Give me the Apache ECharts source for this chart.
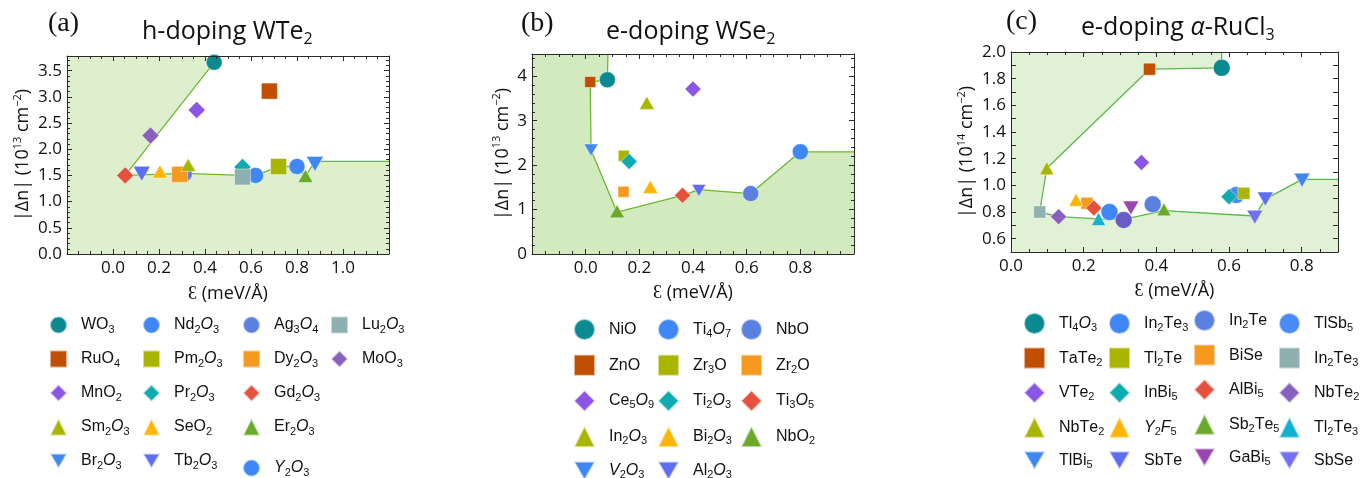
<!DOCTYPE html>
<html>
<head>
<meta charset="utf-8">
<script src="https://cdn.jsdelivr.net/npm/echarts@6/dist/echarts.min.js"></script>
<style>
  html, body { margin: 0; padding: 0; background: #fff; }
  #chart { width: 1370px; height: 478px; }
</style>
</head>
<body>
<div id="chart"></div>
<script>
// ---------- panel (a): h-doping WTe2 ----------
// names use "*X*" for italic letters; digits become subscripts
const aNames = ['WO3', 'Nd2*O*3', 'Ag3*O*4', '*Y*2*O*3',
  'MnO2', 'MoO3', 'Pr2*O*3', 'Gd2*O*3',
  'RuO4', 'Pm2*O*3', 'Dy2*O*3', 'Lu2*O*3',
  'Sm2*O*3', 'SeO2', 'Er2*O*3',
  'Br2*O*3', 'Tb2*O*3'];
const aEps = [0.44, 0.62, 0.31, 0.80, 0.364, 0.163, 0.563, 0.053, 0.68, 0.72, 0.29, 0.563, 0.327, 0.204, 0.837, 0.878, 0.125];
const aDn = [3.66, 1.50, 1.53, 1.67, 2.75, 2.26, 1.66, 1.50, 3.11, 1.67, 1.52, 1.47, 1.70, 1.575, 1.49, 1.72, 1.53];
const aFrontEps = [0.445, 0.44, 0.053, 0.31, 0.563, 0.62, 0.72, 0.80, 0.837, 0.878, 1.2];
const aFrontDn = [3.78, 3.66, 1.50, 1.54, 1.50, 1.50, 1.67, 1.67, 1.49, 1.77, 1.77];
const aLegendCols = [[0, 8, 4, 12, 15], [1, 9, 6, 13, 16], [2, 10, 7, 14], [3], [11, 5]];

// ---------- panel (b): e-doping WSe2 ----------
const bNames = ['NiO', 'Ti4*O*7', 'NbO',
  'ZnO', 'Zr3O', 'Zr2O',
  'Ce5*O*9', 'Ti2*O*3', 'Ti3*O*5',
  'In2*O*3', 'Bi2*O*3', 'NbO2',
  '*V*2*O*3', 'Al2*O*3'];
const bEps = [0.081, 0.80, 0.615, 0.017, 0.142, 0.141, 0.40, 0.162, 0.361, 0.228, 0.241, 0.117, 0.02, 0.422];
const bDn = [3.92, 2.30, 1.36, 3.87, 2.21, 1.40, 3.71, 2.08, 1.32, 3.40, 1.51, 0.96, 2.34, 1.43];
const bFrontEps = [0.083, 0.081, 0.017, 0.02, 0.117, 0.361, 0.422, 0.615, 0.80, 1.0];
const bFrontDn = [4.5, 3.92, 3.87, 2.34, 0.94, 1.32, 1.45, 1.36, 2.30, 2.30];
const bLegendCols = [[0, 3, 6, 9, 12], [1, 4, 7, 10, 13], [2, 5, 8, 11]];

// ---------- panel (c): e-doping alpha-RuCl3 ----------
const cNames = ['Tl4*O*3', 'In2Te3', 'In2Te', 'TlSb5', '',
  'TaTe2', 'Tl2Te', 'BiSe', 'In2Te3',
  'VTe2', 'InBi5', 'AlBi5', 'NbTe2',
  'NbTe2', '*Y*2*F*5', 'Sb2Te5', 'Tl2Te3',
  'TlBi5', 'SbTe', 'GaBi5', 'SbSe'];
const cEps = [0.58, 0.271, 0.39, 0.62, 0.31, 0.381, 0.641, 0.209, 0.079, 0.359, 0.60, 0.228, 0.131, 0.0985, 0.179, 0.421, 0.241, 0.801, 0.70, 0.33, 0.671];
const cDn = [1.881, 0.80, 0.858, 0.927, 0.74, 1.871, 0.94, 0.865, 0.80, 1.172, 0.915, 0.83, 0.765, 1.128, 0.892, 0.82, 0.748, 1.039, 0.897, 0.83, 0.761];
const cFrontEps = [0.58, 0.58, 0.381, 0.0985, 0.079, 0.131, 0.241, 0.31, 0.421, 0.671, 0.70, 0.801, 0.9];
const cFrontDn = [2.0, 1.881, 1.871, 1.128, 0.80, 0.765, 0.748, 0.745, 0.81, 0.77, 0.897, 1.045, 1.045];
const cLegendCols = [[0, 5, 9, 13, 17], [1, 6, 10, 14, 18], [2, 7, 11, 15, 19], [3, 8, 12, 16, 20]];

// ---------- styles ----------
const TEAL = '#0b8a92', BLUE = '#3e87f4', MBLUE = '#5b80e0', PURP = '#8b55e6', MPURP = '#8a60bf';
const DTEAL = '#0fabb0', RED = '#e6513e', RUST = '#c04f02', OLIVE = '#aab502', ORANGE = '#f5991f';
const GRAY = '#8fb0b0', YELLOW = '#fdb502', GREEN = '#69aa2a', VIOLET = '#5e6ef3';
const DOWN = 'path://M0,0L10,0L5,8.66Z';

const aShapes = ['circle', 'circle', 'circle', 'circle', 'diamond', 'diamond', 'diamond', 'diamond',
  'rect', 'rect', 'rect', 'rect', 'triangle', 'triangle', 'triangle', DOWN, DOWN];
const aColors = [TEAL, BLUE, MBLUE, BLUE, PURP, MPURP, DTEAL, RED, RUST, OLIVE, ORANGE, GRAY, OLIVE, YELLOW, GREEN, BLUE, VIOLET];
const bShapes = ['circle', 'circle', 'circle', 'rect', 'rect', 'rect', 'diamond', 'diamond', 'diamond',
  'triangle', 'triangle', 'triangle', DOWN, DOWN];
const bColors = [TEAL, BLUE, MBLUE, RUST, OLIVE, ORANGE, PURP, DTEAL, RED, OLIVE, YELLOW, GREEN, BLUE, VIOLET];
const cShapes = ['circle', 'circle', 'circle', 'circle', 'circle', 'rect', 'rect', 'rect', 'rect',
  'diamond', 'diamond', 'diamond', 'diamond', 'triangle', 'triangle', 'triangle', 'triangle', DOWN, DOWN, DOWN, DOWN];
const cColors = [TEAL, BLUE, MBLUE, '#4a8af5', '#6a5cc8', RUST, OLIVE, ORANGE, GRAY, PURP, DTEAL, RED, MPURP,
  OLIVE, YELLOW, GREEN, '#12b1d0', BLUE, VIOLET, '#9a45b0', '#7272f0'];

const SIZE = {
  a: { circle: 16, rect: 16, diamond: 17, triangle: [15, 13], down: [17, 15] },
  b: { circle: 16, rect: 11, diamond: 16, triangle: [15, 13], down: [14, 12] },
  c: { circle: 17, rect: 12, diamond: 16, triangle: [14, 13], down: [16, 14] }
};

// "Nd2*O*3" -> rich text with subscripts and italics
function richName(s) {
  let out = '', italic = false;
  for (const ch of s) {
    if (ch === '*') { italic = !italic; continue; }
    if (/[0-9]/.test(ch)) out += '{s|' + ch + '}';
    else out += italic ? '{i|' + ch + '}' : '{n|' + ch + '}';
  }
  return out;
}

const labelMap = {};
const series = [];
const legends = [];
const textRich = {
  n: { fontSize: 16, fontFamily: 'Liberation Sans', color: '#111', lineHeight: 20 },
  i: { fontSize: 16, fontFamily: 'Liberation Sans', fontStyle: 'italic', color: '#111', lineHeight: 20 },
  s: { fontSize: 11, fontFamily: 'Liberation Sans', color: '#111', lineHeight: 12, verticalAlign: 'bottom' }
};

function addPanel(p, idx, names, eps, dn, shapes, colors, frontEps, frontDn, lim, fill, lineColor) {
  const front = frontEps.map((x, i) => [x, frontDn[i]]);
  const poly = front.concat([[lim.xmax, lim.ymin], [lim.xmin, lim.ymin], [lim.xmin, lim.ymax]]);
  series.push({
    type: 'custom', xAxisIndex: idx * 2, yAxisIndex: idx * 2, silent: true, z: 0,
    data: [[lim.xmin, lim.ymin]],
    renderItem: (params, api) => ({
      type: 'polygon',
      shape: { points: poly.map(pt => api.coord(pt)) },
      style: { fill: fill }
    })
  });
  series.push({
    type: 'line', xAxisIndex: idx * 2, yAxisIndex: idx * 2, silent: true, z: 1,
    data: front, symbol: 'none', lineStyle: { color: lineColor, width: 1.3 }
  });
  names.forEach((nm, i) => {
    const key = p + i;
    labelMap[key] = richName(nm);
    const shp = shapes[i];
    const kind = shp === DOWN ? 'down' : shp;
    series.push({
      type: 'scatter', name: key, xAxisIndex: idx * 2, yAxisIndex: idx * 2, z: 3,
      data: [[eps[i], dn[i]]],
      symbol: shp, symbolSize: SIZE[p][kind],
      itemStyle: { color: colors[i], opacity: 1, borderColor: 'rgba(255,255,255,0.55)', borderWidth: 0.8 }
    });
  });
}

function addLegend(p, cols, lefts, tops, icon, gap) {
  cols.forEach((col, k) => {
    legends.push({
      orient: 'vertical', left: lefts[k], top: tops[k], height: 200, padding: 0,
      itemGap: gap, itemWidth: icon, itemHeight: icon, selectedMode: false,
      data: col.map(i => p + i),
      formatter: name => labelMap[name],
      textStyle: { fontSize: 16, fontFamily: 'Liberation Sans', color: '#111', lineHeight: 20,
        padding: [0, 0, 0, 9], rich: textRich }
    });
  });
}

const aLim = { xmin: -0.2, xmax: 1.2, ymin: 0, ymax: 3.78 };
const bLim = { xmin: -0.2, xmax: 1.0, ymin: 0, ymax: 4.5 };
const cLim = { xmin: 0, xmax: 0.9, ymin: 0.5, ymax: 2.0 };

addPanel('a', 0, aNames, aEps, aDn, aShapes, aColors, aFrontEps, aFrontDn, aLim, '#deefcd', '#6ab832');
addPanel('b', 1, bNames, bEps, bDn, bShapes, bColors, bFrontEps, bFrontDn, bLim, '#d3eabe', '#6ab832');
addPanel('c', 2, cNames, cEps, cDn, cShapes, cColors, cFrontEps, cFrontDn, cLim, '#e1f1d6', '#5bb84a');

addLegend('a', aLegendCols, [49, 142, 242, 242, 330], [315, 315, 315, 458, 315], 17, 14);
addLegend('b', bLegendCols, [573, 657, 740], [318, 318, 318], 21, 12.7);
addLegend('c', cLegendCols, [1023, 1108, 1193, 1278], [312, 312, 309, 312], 21, 11.6);

const grids = [
  { left: 67, top: 56, width: 322, height: 198 },
  { left: 532, top: 54, width: 322, height: 200 },
  { left: 1011, top: 52, width: 327, height: 200 }
];

const tickFont = { fontFamily: 'Open Sans', fontSize: 17, color: '#111' };
const FRAME = '#2a2a2a';
function fmt1(v) { return (Math.abs(v) < 1e-9 ? 0 : v).toFixed(1); }
function onStep(v, step) { return Math.abs(v / step - Math.round(v / step)) < 1e-6; }

function axisPair(dim, g, lim, interval, split, labelFn, name, nameGap) {
  const min = dim === 'x' ? lim.xmin : lim.ymin;
  const max = dim === 'x' ? lim.xmax : lim.ymax;
  const base = {
    type: 'value', gridIndex: g, min: min, max: max, interval: interval, z: 10,
    splitLine: { show: false },
    axisLine: { show: true, onZero: false, lineStyle: { color: FRAME, width: 1 } },
    axisTick: { show: true, inside: true, length: 5, lineStyle: { color: FRAME } },
    minorTick: { show: split > 0, splitNumber: split || 5, length: 3, lineStyle: { color: FRAME } }
  };
  const main = Object.assign({}, base, {
    position: dim === 'x' ? 'bottom' : 'left',
    axisLabel: Object.assign({ formatter: labelFn, margin: dim === 'x' ? 6 : 5 }, tickFont),
    name: name, nameLocation: 'middle', nameGap: nameGap,
    nameRotate: dim === 'x' ? 0 : 90,
    nameTextStyle: {
      fontFamily: 'Open Sans', fontSize: 18, color: '#111', lineHeight: 22,
      rich: { p: { fontFamily: 'Open Sans', fontSize: 11, color: '#111', lineHeight: 12, verticalAlign: 'top' } }
    }
  });
  const mirror = Object.assign({}, base, {
    position: dim === 'x' ? 'top' : 'right',
    axisLabel: { show: false }
  });
  return [main, mirror];
}

const xName = 'Ɛ (meV/Å)';
const xAxes = [].concat(
  axisPair('x', 0, aLim, 0.2, 4, v => (v < -1e-9 || v > 1.0001) ? '' : fmt1(v), xName, 29),
  axisPair('x', 1, bLim, 0.2, 4, v => (v < -1e-9 || v > 0.9) ? '' : fmt1(v), xName, 28),
  axisPair('x', 2, cLim, 0.2, 4, v => (v > 0.85) ? '' : fmt1(v), xName, 28)
);
const yAxes = [].concat(
  axisPair('y', 0, aLim, 0.5, 5, v => onStep(v, 0.5) ? fmt1(v) : '', '|Δn| (10{p|13} cm{p|−2})', 31),
  axisPair('y', 1, bLim, 1, 5, v => onStep(v, 1) && v < 4.4 ? Math.round(v).toString() : '', '|Δn| (10{p|13} cm{p|−2})', 15),
  axisPair('y', 2, cLim, 0.1, 0, v => (onStep(v, 0.2) ? fmt1(v) : ''), '|Δn| (10{p|14} cm{p|−2})', 32)
);

const titleRich = {
  t: { fontFamily: 'Open Sans', fontSize: 25, fontWeight: 'normal', color: '#111', lineHeight: 30 },
  ti: { fontFamily: 'Open Sans', fontSize: 25, fontWeight: 'normal', fontStyle: 'italic', color: '#111', lineHeight: 30 },
  s: { fontFamily: 'Open Sans', fontSize: 16, fontWeight: 'normal', color: '#111', lineHeight: 16, verticalAlign: 'bottom' }
};
const titleStyle = { fontWeight: 'normal', rich: titleRich };
const panelLabel = { fontFamily: 'Liberation Serif', fontSize: 28, fontWeight: 'normal', color: '#111' };
const titles = [
  { text: '(a)', left: 43, top: 5, textStyle: panelLabel },
  { text: '{t|h-doping WTe}{s|2}', left: 137, top: 12, textStyle: titleStyle },
  { text: '(b)', left: 516, top: 5, textStyle: panelLabel },
  { text: '{t|e-doping WSe}{s|2}', left: 601, top: 12, textStyle: titleStyle },
  { text: '(c)', left: 1001, top: 3, textStyle: panelLabel },
  { text: '{t|e-doping }{ti|α}{t|-RuCl}{s|3}', left: 1076, top: 8, textStyle: titleStyle }
];

const chart = echarts.init(document.getElementById('chart'), null, { renderer: 'canvas' });
chart.setOption({
  animation: false,
  backgroundColor: '#fff',
  title: titles,
  grid: grids,
  xAxis: xAxes,
  yAxis: yAxes,
  legend: legends,
  series: series
});
</script>
</body>
</html>
